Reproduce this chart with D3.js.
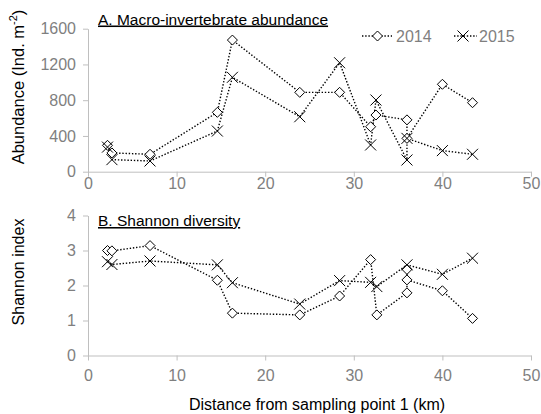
<!DOCTYPE html>
<html>
<head>
<meta charset="utf-8">
<script src="https://cdn.jsdelivr.net/npm/d3@7"></script>
<style>
  body { margin: 0; background: #fff; }
  text { font-family: Arial, "Liberation Sans", sans-serif; }
  .tick text { fill: #7f7f7f; font-size: 16px; }
  .axis path, .axis line { stroke: #bfbfbf; }
  .lijn { fill: none; stroke: #000; stroke-width: 1.4; stroke-dasharray: 1.4 1.8; }
</style>
</head>
<body>
<div id="chart"></div>
<script>
// panel A: macro-invertebrate abundance (Ind. m-2)
var distA = [2.2, 2.7, 7.0, 14.6, 16.3, 23.9, 28.4, 31.9, 32.5, 36.0, 36.0, 40.0, 43.4];
var abund2014 = [295, 210, 195, 664, 1473, 888, 888, 503, 634, 580, 373, 978, 772];
var abund2015 = [275, 135, 120, 455, 1056, 615, 1219, 299, 802, 131, 373, 236, 195];

// panel B: Shannon diversity
var distB = [2.2, 2.7, 7.0, 14.6, 16.3, 23.9, 28.4, 31.9, 32.6, 36.0, 36.0, 36.0, 40.0, 43.4];
var shannon2014 = [3.0, 2.99, 3.14, 2.15, 1.21, 1.16, 1.70, 2.74, 1.16, 1.79, 2.46, 2.16, 1.85, 1.06];
var dist2015B = [2.2, 2.7, 7.0, 14.6, 16.3, 23.9, 28.4, 31.9, 32.6, 36.0, 40.0, 43.4];
var shannon2015 = [2.68, 2.6, 2.70, 2.59, 2.08, 1.47, 2.14, 2.09, 1.97, 2.59, 2.32, 2.78];

var xTicks = [0, 10, 20, 30, 40, 50];
var yTicksA = [0, 400, 800, 1200, 1600];
var yTicksB = [0, 1, 2, 3, 4];
var seriesNames = ["2014", "2015"];

var width = 541, height = 414;
var svg = d3.select("#chart").append("svg")
  .attr("width", width)
  .attr("height", height);

var xScale = d3.scaleLinear().domain([0, 50]).range([88, 531]);
var yA = d3.scaleLinear().domain([0, 1600]).range([171.7, 28.7]);
var yB = d3.scaleLinear().domain([0, 4]).range([355.5, 215.5]);

function zip(xs, ys) {
  return xs.map(function(d, i) { return { x: d, y: ys[i] }; });
}

function diamond(g, cx, cy) {
  var s = 5;
  g.append("path")
    .attr("d", "M" + cx + "," + (cy - s) + "L" + (cx + s) + "," + cy +
      "L" + cx + "," + (cy + s) + "L" + (cx - s) + "," + cy + "Z")
    .attr("fill", "#fff").attr("stroke", "#000").attr("stroke-width", 1);
}
function cross(g, cx, cy) {
  var s = 5.5;
  g.append("path")
    .attr("d", "M" + (cx - s) + "," + (cy - s) + "L" + (cx + s) + "," + (cy + s) +
      "M" + (cx - s) + "," + (cy + s) + "L" + (cx + s) + "," + (cy - s))
    .attr("fill", "none").attr("stroke", "#000").attr("stroke-width", 1);
}

function drawPanel(yScale, yTicks, s2014, s2015, title, titleY, xPad) {
  svg.append("g")
    .attr("class", "x axis")
    .attr("transform", "translate(0," + yScale(0) + ")")
    .call(d3.axisBottom(xScale).tickValues(xTicks).tickSize(5).tickPadding(xPad).tickSizeOuter(0));

  svg.append("g")
    .attr("class", "y axis")
    .attr("transform", "translate(" + xScale(0) + ",0)")
    .call(d3.axisLeft(yScale).tickValues(yTicks).tickFormat(d3.format("d"))
      .tickSize(5).tickPadding(7).tickSizeOuter(0));

  var line = d3.line()
    .x(function(d) { return xScale(d.x); })
    .y(function(d) { return yScale(d.y); });

  svg.append("path").datum(s2014).attr("class", "lijn").attr("d", line);
  svg.append("path").datum(s2015).attr("class", "lijn").attr("d", line);

  var marks = svg.append("g");
  s2014.forEach(function(d) { diamond(marks, xScale(d.x), yScale(d.y)); });
  s2015.forEach(function(d) { cross(marks, xScale(d.x), yScale(d.y)); });

  svg.append("text")
    .attr("x", 98)
    .attr("y", titleY)
    .attr("font-size", "15.5px")
    .attr("fill", "#000")
    .attr("text-decoration", "underline")
    .text(title);
}

drawPanel(yA, yTicksA, zip(distA, abund2014), zip(distA, abund2015),
  "A. Macro-invertebrate abundance", 24.5, 1);
drawPanel(yB, yTicksB, zip(distB, shannon2014), zip(dist2015B, shannon2015),
  "B. Shannon diversity", 226, 9);

// y axis labels
var labA = svg.append("text")
  .attr("transform", "translate(24,87) rotate(-90)")
  .attr("text-anchor", "middle")
  .attr("font-size", "16.5px")
  .attr("fill", "#000");
labA.append("tspan").text("Abundance (Ind. m");
labA.append("tspan").attr("font-size", "11px").attr("dy", "-7").text("-2");
labA.append("tspan").attr("dy", "7").text(")");

svg.append("text")
  .attr("transform", "translate(24,272) rotate(-90)")
  .attr("text-anchor", "middle")
  .attr("font-size", "16px")
  .attr("fill", "#000")
  .text("Shannon index");

// x axis label
svg.append("text")
  .attr("x", 317)
  .attr("y", 410)
  .attr("text-anchor", "middle")
  .attr("font-size", "16px")
  .attr("fill", "#000")
  .text("Distance from sampling point 1 (km)");

// legend
var legend = svg.append("g");
var legX = [362, 454];
seriesNames.forEach(function(name, i) {
  var x0 = legX[i];
  legend.append("line")
    .attr("class", "lijn")
    .attr("x1", x0).attr("x2", x0 + (i === 0 ? 30 : 23))
    .attr("y1", 36).attr("y2", 36);
  if (i === 0) diamond(legend, x0 + 15.5, 36); else cross(legend, x0 + 9, 36);
  legend.append("text")
    .attr("x", i === 0 ? 396 : 479)
    .attr("y", 42)
    .attr("font-size", "16px")
    .attr("fill", "#7f7f7f")
    .text(name);
});
</script>
</body>
</html>
